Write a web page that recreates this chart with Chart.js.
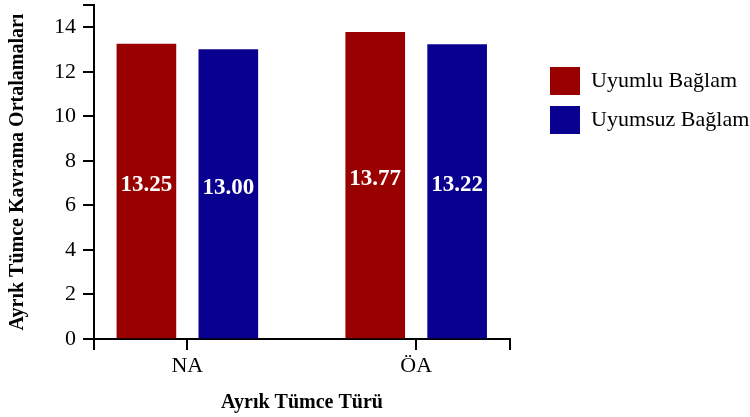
<!DOCTYPE html>
<html lang="tr">
<head>
  <meta charset="UTF-8">
  <title>Ayrık Tümce Kavrama Ortalamaları</title>
  <script src="https://cdn.jsdelivr.net/npm/chart.js@4.4.1/dist/chart.umd.min.js"></script>
  <style>
    body { margin: 0; background: #fff; }
    #wrap { width: 750px; height: 417px; position: relative; }
  </style>
</head>
<body>
  <div id="wrap"><canvas id="chart"></canvas></div>

  <script>
    // Chart data
    const categories = ['NA', 'ÖA'];
    const seriesLabels = ['Uyumlu Bağlam', 'Uyumsuz Bağlam'];
    const uyumluValues = [13.25, 13.77];
    const uyumsuzValues = [13.00, 13.22];
    const yTickValues = [0, 2, 4, 6, 8, 10, 12, 14];
    const yMax = 15;

    const serif = "'Liberation Serif', 'Times New Roman', serif";
    Chart.defaults.font.family = serif;
    Chart.defaults.color = '#000';

    // white value labels inside the bars
    const valueLabels = {
      id: 'valueLabels',
      afterDatasetsDraw(chart) {
        const ctx = chart.ctx;
        ctx.save();
        ctx.font = "bold 23px " + serif;
        ctx.fillStyle = '#fff';
        ctx.textAlign = 'center';
        ctx.textBaseline = 'alphabetic';
        chart.data.datasets.forEach((ds, di) => {
          chart.getDatasetMeta(di).data.forEach((bar, i) => {
            ctx.fillText(ds.data[i].y.toFixed(2), bar.x, (bar.y + bar.base) / 2);
          });
        });
        ctx.restore();
      }
    };

    const toPoints = vals => categories.map((c, i) => ({ x: i, y: vals[i] }));

    const axisGrid = (len) => ({
      display: true,
      offset: false,
      drawOnChartArea: false,
      drawTicks: true,
      tickLength: len,
      tickColor: '#000',
      tickWidth: 2,
      color: '#000',
      lineWidth: 2
    });

    new Chart(document.getElementById('chart'), {
      type: 'bar',
      data: {
        datasets: [
          { label: seriesLabels[0], data: toPoints(uyumluValues), backgroundColor: '#990000' },
          { label: seriesLabels[1], data: toPoints(uyumsuzValues), backgroundColor: '#0a0090' }
        ]
      },
      options: {
        responsive: true,
        maintainAspectRatio: false,
        animation: false,
        layout: { padding: { top: 5 } },
        barThickness: 'flex',
        categoryPercentage: 0.716,
        barPercentage: 0.72,
        scales: {
          x: {
            type: 'linear',
            offset: false,
            min: -0.408,
            max: 1.41,
            grid: axisGrid(11),
            border: { display: true, color: '#000', width: 2 },
            afterBuildTicks: s => {
              s.ticks = [s.min, 0, 1, s.max].map(v => ({ value: v }));
            },
            ticks: {
              autoSkip: false,
              maxRotation: 0,
              padding: 3,
              font: { size: 22 },
              callback: v => Number.isInteger(v) ? categories[v] : ''
            },
            title: {
              display: true,
              text: 'Ayrık Tümce Türü',
              font: { size: 20, weight: 'bold' },
              padding: { top: 4, bottom: 2 }
            },
            afterFit: s => { s.height = 78; s.paddingLeft = 0; s.paddingRight = 0; }
          },
          y: {
            min: 0,
            max: yMax,
            grid: axisGrid(11),
            border: { display: true, color: '#000', width: 2 },
            afterBuildTicks: s => {
              s.ticks = yTickValues.concat([yMax]).map(v => ({ value: v }));
            },
            ticks: {
              padding: 7,
              font: { size: 22 },
              callback: v => v === yMax ? '' : v
            },
            title: {
              display: true,
              text: 'Ayrık Tümce Kavrama Ortalamaları',
              font: { size: 20, weight: 'bold' },
              padding: { top: 6, bottom: 4 }
            },
            afterFit: s => { s.width = 94; s.paddingTop = 0; s.paddingBottom = 0; }
          },
          // empty spacer between plot and legend
          yGap: {
            type: 'linear',
            position: 'right',
            display: true,
            grid: { display: false },
            border: { display: false },
            ticks: { display: false },
            afterFit: s => { s.width = 29; }
          }
        },
        plugins: {
          legend: {
            position: 'right',
            align: 'start',
            maxWidth: 211,
            title: {
              display: true,
              text: '',
              font: { size: 10, lineHeight: 1 },
              padding: { top: 41, bottom: 0 }
            },
            labels: {
              boxWidth: 30,
              boxHeight: 28,
              padding: 11,
              color: '#000',
              font: { size: 22 }
            }
          },
          tooltip: { enabled: false }
        }
      },
      plugins: [valueLabels]
    });
  </script>
</body>
</html>
